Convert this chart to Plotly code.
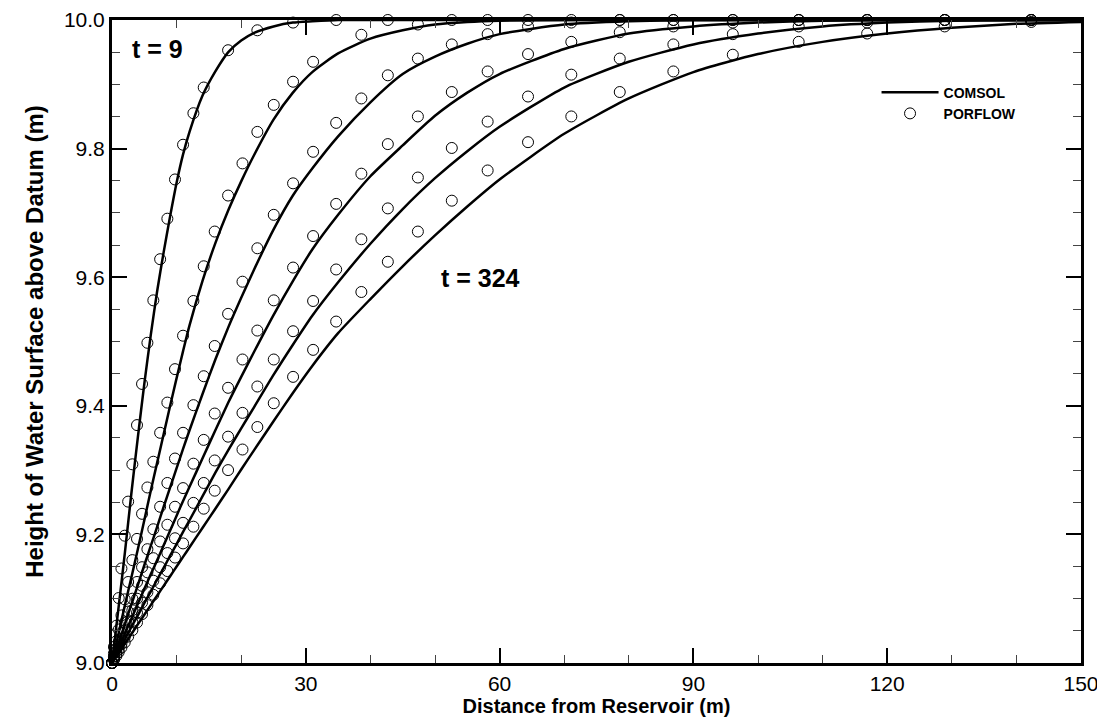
import plotly.graph_objects as go

# PORFLOW grid nodes (m)
node_x = [0.0, 0.3, 0.68, 1.04, 1.46, 1.97, 2.5, 3.15, 3.87, 4.65, 5.48, 6.4, 7.45, 8.57, 9.75,
          11.0, 12.6, 14.2, 15.9, 17.97, 20.2, 22.5, 25.04, 28.03, 31.13, 34.7, 38.6, 42.7,
          47.35, 52.6, 58.15, 64.4, 71.1, 78.6, 86.9, 96.1, 106.3, 116.9, 128.9, 142.3]

# PORFLOW results (t = 9 and t = 36 are plotted on fewer nodes)
porflow_x_t9 = [0.0, 0.3, 0.68, 1.04, 1.46, 1.97, 2.5, 3.15, 3.87, 4.65, 5.48, 6.4, 7.45, 8.57,
                9.75, 11.0, 12.6, 14.2, 17.97, 22.5, 28.03, 34.7, 42.7, 52.6, 64.4, 78.6, 96.1,
                116.9, 142.3]
porflow_h_t9 = [9.0, 9.025, 9.058, 9.101, 9.147, 9.198, 9.251, 9.309, 9.370, 9.434, 9.498, 9.564,
                9.628, 9.691, 9.752, 9.806, 9.855, 9.895, 9.953, 9.984, 9.996, 10.0, 10.0, 10.0,
                10.0, 10.0, 10.0, 10.0, 10.0]
porflow_x_t36 = [0.0, 0.3, 0.68, 1.04, 1.46, 1.97, 2.5, 3.15, 3.87, 4.65, 5.48, 6.4, 7.45, 8.57,
                 9.75, 11.0, 12.6, 14.2, 15.9, 17.97, 20.2, 22.5, 25.04, 28.03, 31.13, 38.6,
                 47.35, 58.15, 71.1, 86.9, 106.3, 128.9]
porflow_h_t36 = [9.0, 9.015, 9.034, 9.052, 9.074, 9.099, 9.126, 9.16, 9.193, 9.232, 9.273, 9.313,
                 9.358, 9.405, 9.457, 9.509, 9.563, 9.617, 9.671, 9.727, 9.777, 9.826, 9.868,
                 9.904, 9.935, 9.977, 9.993, 10.0, 10.0, 10.0, 10.0, 10.0]
porflow_h_t81 = [9.0, 9.01, 9.022, 9.033, 9.047, 9.063, 9.08, 9.10, 9.126, 9.149, 9.177, 9.208,
                 9.243, 9.28, 9.318, 9.358, 9.401, 9.446, 9.493, 9.543, 9.593, 9.645, 9.697,
                 9.746, 9.795, 9.840, 9.878, 9.914, 9.940, 9.962, 9.978, 9.990, 9.996, 10.0,
                 10.0, 10.0, 10.0, 10.0, 10.0, 10.0]
porflow_h_t144 = [9.0, 9.008, 9.018, 9.027, 9.038, 9.051, 9.065, 9.082, 9.10, 9.12, 9.141, 9.163,
                  9.189, 9.215, 9.243, 9.272, 9.310, 9.347, 9.388, 9.428, 9.472, 9.517, 9.564,
                  9.615, 9.664, 9.714, 9.761, 9.807, 9.850, 9.888, 9.920, 9.947, 9.966, 9.981,
                  9.990, 9.996, 10.0, 10.0, 10.0, 10.0]
porflow_h_t225 = [9.0, 9.006, 9.014, 9.021, 9.03, 9.04, 9.051, 9.064, 9.078, 9.094, 9.11, 9.128,
                  9.149, 9.171, 9.194, 9.218, 9.249, 9.28, 9.315, 9.352, 9.389, 9.430, 9.472,
                  9.516, 9.563, 9.612, 9.659, 9.707, 9.755, 9.801, 9.842, 9.881, 9.915, 9.940,
                  9.962, 9.978, 9.990, 9.996, 10.0, 10.0]
porflow_h_t324 = [9.0, 9.005, 9.011, 9.017, 9.024, 9.032, 9.041, 9.051, 9.063, 9.076, 9.09, 9.106,
                  9.124, 9.143, 9.164, 9.186, 9.212, 9.24, 9.268, 9.30, 9.332, 9.367, 9.404,
                  9.445, 9.487, 9.531, 9.577, 9.624, 9.671, 9.719, 9.766, 9.810, 9.850, 9.888,
                  9.920, 9.946, 9.966, 9.979, 9.990, 9.997]

# COMSOL curves
comsol_x = [0, 1, 2, 3, 4, 5, 6, 7, 8, 9, 10, 11, 12, 14, 16, 18, 20, 22, 25, 28, 31, 35, 40,
            45, 50, 55, 60, 70, 80, 90, 100, 110, 120, 130, 140, 150]
comsol_t9 = [9.0, 9.085, 9.172, 9.264, 9.351, 9.434, 9.51, 9.579, 9.639, 9.695, 9.747, 9.791,
             9.826, 9.882, 9.92, 9.95, 9.968, 9.98, 9.99, 9.996, 9.998, 10.0, 10.0, 10.0, 10.0,
             10.0, 10.0, 10.0, 10.0, 10.0, 10.0, 10.0, 10.0, 10.0, 10.0, 10.0]
comsol_t36 = [9.0, 9.045, 9.09, 9.133, 9.177, 9.222, 9.268, 9.312, 9.356, 9.40, 9.443, 9.485,
              9.525, 9.594, 9.653, 9.704, 9.749, 9.79, 9.845, 9.887, 9.919, 9.948, 9.971, 9.984,
              9.993, 9.997, 9.999, 10.0, 10.0, 10.0, 10.0, 10.0, 10.0, 10.0, 10.0, 10.0]
comsol_t81 = [9.0, 9.03, 9.061, 9.091, 9.121, 9.152, 9.182, 9.212, 9.243, 9.273, 9.303, 9.333,
              9.362, 9.418, 9.472, 9.522, 9.568, 9.612, 9.674, 9.727, 9.769, 9.819, 9.872, 9.916,
              9.943, 9.963, 9.978, 9.993, 9.998, 10.0, 10.0, 10.0, 10.0, 10.0, 10.0, 10.0]
comsol_t144 = [9.0, 9.023, 9.046, 9.069, 9.092, 9.115, 9.138, 9.16, 9.183, 9.206, 9.229, 9.252,
               9.274, 9.318, 9.362, 9.405, 9.445, 9.484, 9.541, 9.594, 9.643, 9.697, 9.757, 9.805,
               9.851, 9.887, 9.916, 9.955, 9.979, 9.99, 9.996, 9.999, 10.0, 10.0, 10.0, 10.0]
comsol_t225 = [9.0, 9.018, 9.037, 9.056, 9.074, 9.093, 9.111, 9.13, 9.148, 9.167, 9.185, 9.204,
               9.222, 9.259, 9.296, 9.331, 9.365, 9.398, 9.448, 9.495, 9.54, 9.592, 9.652, 9.706,
               9.754, 9.796, 9.834, 9.895, 9.935, 9.962, 9.979, 9.99, 9.996, 9.999, 10.0, 10.0]
comsol_t324 = [9.0, 9.015, 9.03, 9.045, 9.06, 9.075, 9.09, 9.105, 9.12, 9.135, 9.15, 9.165,
               9.18, 9.21, 9.24, 9.27, 9.301, 9.331, 9.376, 9.42, 9.462, 9.513, 9.566, 9.617,
               9.665, 9.71, 9.752, 9.823, 9.878, 9.919, 9.947, 9.966, 9.979, 9.988, 9.994, 9.997]

comsol_curves = [comsol_t9, comsol_t36, comsol_t81, comsol_t144, comsol_t225, comsol_t324]
porflow_curves = [(porflow_x_t9, porflow_h_t9), (porflow_x_t36, porflow_h_t36),
                  (node_x, porflow_h_t81), (node_x, porflow_h_t144),
                  (node_x, porflow_h_t225), (node_x, porflow_h_t324)]

FONT = "Liberation Sans, Arial, sans-serif"

fig = go.Figure()

for i, h in enumerate(comsol_curves):
    fig.add_trace(go.Scatter(
        x=comsol_x, y=h, mode="lines", name="COMSOL",
        line=dict(color="black", width=2.5, shape="spline", smoothing=0.6),
        showlegend=(i == 0), legendgroup="comsol"
    ))

for i, (px_, ph) in enumerate(porflow_curves):
    fig.add_trace(go.Scatter(
        x=px_, y=ph, mode="markers", name="PORFLOW",
        marker=dict(symbol="circle-open", size=11, color="black", line=dict(width=1)),
        showlegend=(i == 0), legendgroup="porflow", cliponaxis=False
    ))

# time labels
fig.add_annotation(x=7.1, y=9.955, text="<b>t = 9</b>", showarrow=False,
                   font=dict(family=FONT, size=25, color="black"))
fig.add_annotation(x=57.0, y=9.599, text="<b>t = 324</b>", showarrow=False,
                   font=dict(family=FONT, size=25, color="black"))

# page body adds an 8px offset, so the figure is a bit smaller than the window
fig.update_layout(
    width=1097, height=719,
    margin=dict(l=104, r=24, t=12, b=64),
    plot_bgcolor="white", paper_bgcolor="white",
    font=dict(family=FONT, color="black"),
    legend=dict(x=0.789, y=0.912, xanchor="left", yanchor="top", itemwidth=57,
                bgcolor="rgba(0,0,0,0)", tracegroupgap=0,
                font=dict(family=FONT, size=14, color="black", weight="bold")),
)

# format x-axis
fig.update_xaxes(
    range=[0, 150], tickvals=[0, 30, 60, 90, 120, 150],
    automargin=False, ticklabeloverflow="allow",
    showline=True, linecolor="black", linewidth=3, mirror="allticks",
    ticks="inside", ticklen=15, tickwidth=2, tickcolor="black",
    minor=dict(dtick=10, ticks="inside", ticklen=8, tickwidth=1, tickcolor="#444"),
    showgrid=False, zeroline=False,
    tickfont=dict(family=FONT, size=21, color="black"),
    title=dict(text="<b>Distance from Reservoir (m)</b>", standoff=4,
               font=dict(family=FONT, size=20, color="black"))
)

# format y-axis
fig.update_yaxes(
    range=[9.0, 10.0], tickvals=[9.0, 9.2, 9.4, 9.6, 9.8, 10.0], tickformat=".1f",
    automargin=False, ticklabeloverflow="allow",
    showline=True, linecolor="black", linewidth=3, mirror="allticks",
    ticks="inside", ticklen=15, tickwidth=2, tickcolor="black",
    minor=dict(dtick=0.05, ticks="inside", ticklen=8, tickwidth=1, tickcolor="#444"),
    showgrid=False, zeroline=False,
    tickfont=dict(family=FONT, size=21, color="black"),
    title=dict(text="<b>Height of Water Surface above Datum (m)</b>", standoff=14,
               font=dict(family=FONT, size=24, color="black"))
)

fig.write_html("out.html")
